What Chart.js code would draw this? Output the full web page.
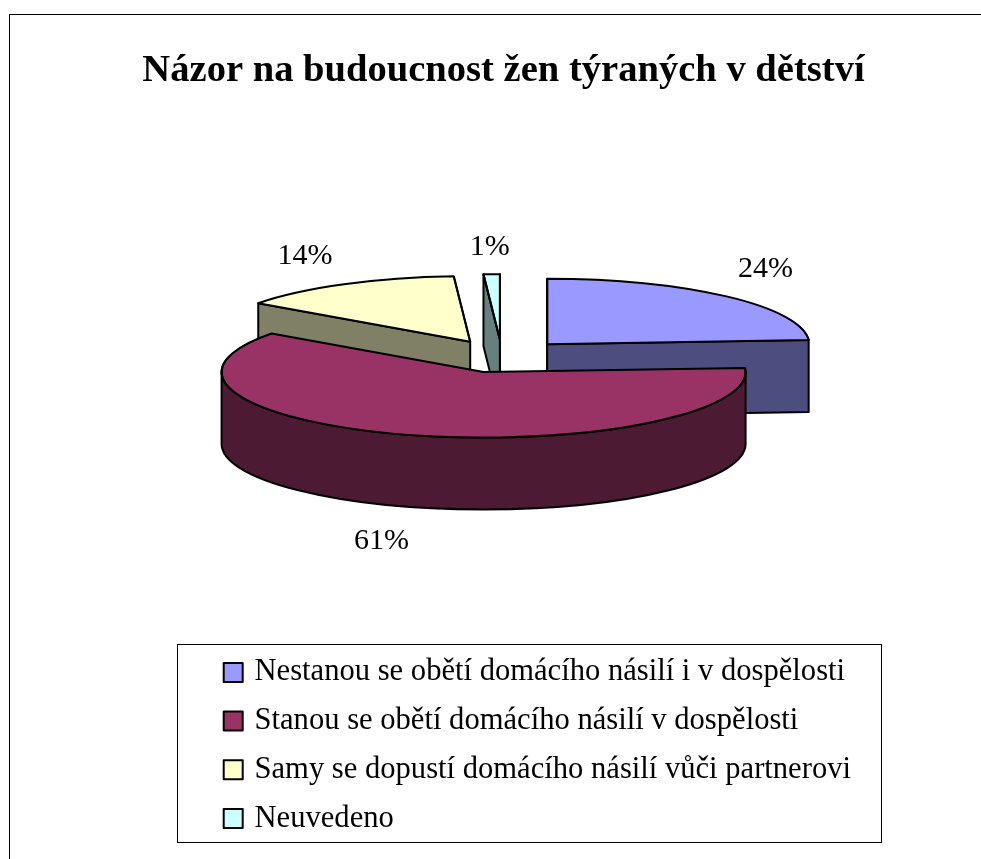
<!DOCTYPE html>
<html>
<head>
<meta charset="utf-8">
<style>html,body{margin:0;padding:0;background:#fff}canvas{display:block}</style>
<script src="https://cdn.jsdelivr.net/npm/chart.js@4"></script>
</head>
<body>
<canvas id="c" width="981" height="859"></canvas>
<script>
const chartTitle = 'Názor na budoucnost žen týraných v dětství';
const categories = [
  'Nestanou se obětí domácího násilí i v dospělosti',
  'Stanou se obětí domácího násilí v dospělosti',
  'Samy se dopustí domácího násilí vůči partnerovi',
  'Neuvedeno'
];
const values = [24, 61, 14, 1];
const topColors = ['#9999FF', '#993366', '#FFFFCC', '#CCFFFF'];
const wallColors = ['#4D4D80', '#4D1A33', '#808066', '#668080'];
const labelNudgeX = [39, -29, -39, -2];
const labelNudgeY = [-27.5, 106, -28, -27];

const FONT = '"Liberation Serif", "Times New Roman", serif';
const FLATTEN = 0.25, DEPTH = 72, EXPLODE = 66, RADIUS = 262, EPS = 1e-6;

function geom(chart) {
  const arcs = chart.getDatasetMeta(0).data;
  const cy = chart.chartArea.top + chart.chartArea.height / 2;
  return arcs.map((a, i) => ({
    i, x: a.x, y: cy + (a.y - cy) * FLATTEN,
    r: a.outerRadius, ry: a.outerRadius * FLATTEN,
    start: a.startAngle, end: a.endAngle, mid: (a.startAngle + a.endAngle) / 2
  }));
}
function edgeWall(ctx, g, angle) {
  const px = g.x + g.r * Math.cos(angle), py = g.y + g.ry * Math.sin(angle);
  ctx.beginPath();
  ctx.moveTo(g.x, g.y);
  ctx.lineTo(px, py);
  ctx.lineTo(px, py + DEPTH);
  ctx.lineTo(g.x, g.y + DEPTH);
  ctx.closePath();
  ctx.fill(); ctx.stroke();
}
const pie3d = {
  id: 'pie3d',
  afterDatasetsUpdate(chart) {
    chart.getDatasetMeta(0).data.forEach(a => {
      const m = (a.startAngle + a.endAngle) / 2;
      a.x += EXPLODE * Math.cos(m);
      a.y += EXPLODE * Math.sin(m);
    });
  },
  afterLayout(chart) {
    const l = chart.legend;
    l.left = 209.1; l.right = 882; l.top = 639; l.bottom = 900;
    l.width = l.right - l.left; l.height = l.bottom - l.top;
    chart.titleBlock.left += 3;
  },
  beforeDraw(chart) {
    const ctx = chart.ctx;
    ctx.save();
    ctx.fillStyle = '#fff';
    ctx.fillRect(0, 0, chart.width, chart.height);
    ctx.strokeStyle = '#000'; ctx.lineWidth = 1;
    ctx.strokeRect(9.5, 14.5, 1200, 1200);
    ctx.strokeRect(177.5, 644.5, 704, 198);
    ctx.restore();
  },
  beforeDatasetsDraw(chart) {
    const ctx = chart.ctx;
    const gs = geom(chart);
    ctx.save();
    ctx.lineWidth = 2; ctx.strokeStyle = '#000'; ctx.lineJoin = 'round';
    gs.slice().sort((a, b) => Math.sin(a.mid) - Math.sin(b.mid)).forEach(g => {
      ctx.fillStyle = wallColors[g.i];
      if (-Math.cos(g.start) >= -EPS) edgeWall(ctx, g, g.start);
      if (Math.cos(g.end) >= -EPS) edgeWall(ctx, g, g.end);
      const a0 = Math.max(g.start, 0), a1 = Math.min(g.end, Math.PI);
      if (a1 > a0) {
        ctx.beginPath();
        ctx.ellipse(g.x, g.y, g.r, g.ry, 0, a0, a1);
        ctx.ellipse(g.x, g.y + DEPTH, g.r, g.ry, 0, a1, a0, true);
        ctx.closePath();
        ctx.fill(); ctx.stroke();
      }
    });
    ctx.restore();
    const cy = chart.chartArea.top + chart.chartArea.height / 2;
    ctx.save();
    ctx.translate(0, cy);
    ctx.scale(1, FLATTEN);
    ctx.translate(0, -cy);
  },
  afterDatasetsDraw(chart) {
    const ctx = chart.ctx;
    ctx.restore();
    const gs = geom(chart);
    ctx.save();
    ctx.lineWidth = 2; ctx.strokeStyle = '#000'; ctx.lineJoin = 'round';
    gs.forEach(g => {
      ctx.beginPath();
      ctx.moveTo(g.x, g.y);
      ctx.ellipse(g.x, g.y, g.r, g.ry, 0, g.start, g.end);
      ctx.closePath();
      ctx.stroke();
    });
    ctx.fillStyle = '#000';
    ctx.font = '30px ' + FONT;
    ctx.textAlign = 'center';
    ctx.textBaseline = 'middle';
    gs.forEach(g => {
      const px = g.x + g.r * Math.cos(g.mid) + labelNudgeX[g.i];
      const py = g.y + g.ry * Math.sin(g.mid) + labelNudgeY[g.i];
      ctx.fillText(values[g.i] + '%', px, py);
    });
    ctx.restore();
  }
};

new Chart(document.getElementById('c'), {
  type: 'pie',
  plugins: [pie3d],
  data: {
    labels: categories,
    datasets: [{
      data: values,
      backgroundColor: topColors,
      borderColor: '#000',
      borderWidth: 2,
      borderJoinStyle: 'round',
      clip: false
    }]
  },
  options: {
    responsive: false,
    animation: false,
    radius: RADIUS,
    layout: { padding: { left: 23, right: 0, top: 0, bottom: 249 } },
    plugins: {
      tooltip: { enabled: false },
      title: {
        display: true,
        text: chartTitle,
        color: '#000',
        fullSize: false,
        font: { family: FONT, size: 38.6, weight: 'bold', lineHeight: 1.2 },
        padding: { top: 48, bottom: 8 }
      },
      legend: {
        display: true,
        position: 'chartArea',
        align: 'start',
        labels: {
          color: '#000',
          font: { family: FONT, size: 30.6 },
          padding: 18.1,
          usePointStyle: true,
          pointStyle: 'rect',
          boxWidth: 12,
          boxHeight: 19
        }
      }
    }
  }
});
</script>
</body>
</html>
